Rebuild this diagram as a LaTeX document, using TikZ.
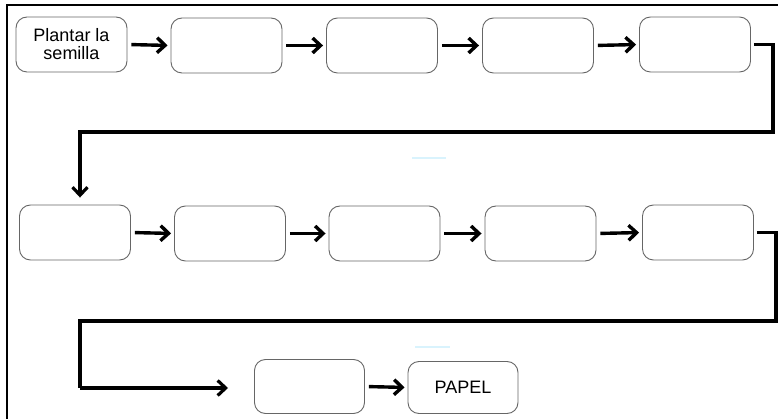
\documentclass[tikz,border=0pt]{standalone}
\usepackage{fontspec}
\setmainfont{Liberation Sans}
\usetikzlibrary{arrows.meta}
\begin{document}
\begin{tikzpicture}[x=1pt,y=-1pt,
  stepbox/.style={draw=black!60, line width=0.9pt, rounded corners=11pt, minimum width=111pt, minimum height=55pt, inner sep=0pt, align=center, font=\fontsize{18}{18}\selectfont},
  tip/.style={-{Straight Barb[length=8pt,width=15pt]}},
  arr/.style={line width=3.4pt, tip, shorten <=4pt, shorten >=3pt},
  conn/.style={line width=3.2pt},
  frame/.style={line width=1.8pt}]
\useasboundingbox (0,0) rectangle (778,419);
\draw[frame] (7,419) -- (7,5) -- (778,5);
% row 1
\node[stepbox] (b1) at (71.5,44.5) {Plantar la\\semilla};
\node[stepbox] (b2) at (226.5,45.5) {};
\node[stepbox] (b3) at (382,45.5) {};
\node[stepbox] (b4) at (538,45.5) {};
\node[stepbox] (b5) at (695,44.5) {};
% row 2
\node[stepbox] (b6) at (75,232.5) {};
\node[stepbox] (b7) at (230,233.5) {};
\node[stepbox] (b8) at (384.5,233.5) {};
\node[stepbox] (b9) at (540.5,233.5) {};
\node[stepbox] (b10) at (698,232.5) {};
% row 3
\node[stepbox, minimum width=110pt, minimum height=54pt] (b11) at (309.5,386.5) {};
\node[stepbox, minimum width=110pt, minimum height=52pt] (b12) at (463,387.5) {PAPEL};
% arrows
\foreach \a/\b in {b1/b2,b2/b3,b3/b4,b4/b5,b6/b7,b7/b8,b8/b9,b9/b10,b11/b12}
  \draw[arr] (\a.east) -- (\b.west);
% connectors
\coordinate (c1) at (773,132);
\draw[conn, tip, shorten >=7pt] ([xshift=3pt]b5.east) -| (c1) -| ([xshift=5pt]b6.north);
\coordinate (c2) at (776,321);
\coordinate (c3) at (80,388);
\coordinate (c4) at (228,388);
\draw[conn] ([xshift=3pt]b10.east) -| (c2) -| (c3);
\draw[conn, tip] (c3) -- (c4);
% faint marks
\draw[cyan!15, line width=1.5pt] (412,158) -- (446,158);
\draw[cyan!15, line width=1.5pt] (415,347) -- (450,347);
\end{tikzpicture}
\end{document}
